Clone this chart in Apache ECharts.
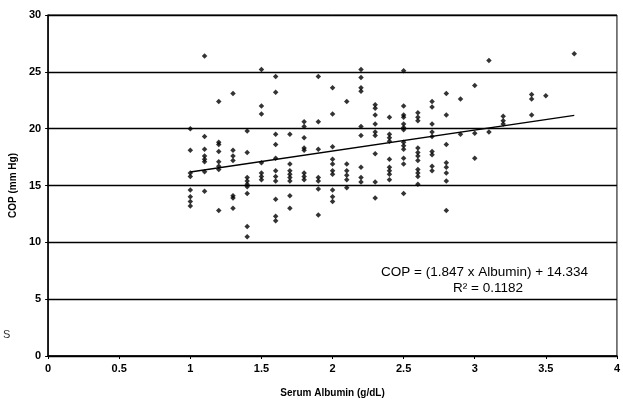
<!DOCTYPE html>
<html>
<head>
<meta charset="utf-8">
<script src="https://cdn.jsdelivr.net/npm/echarts@6/dist/echarts.min.js"></script>
<style>
html,body{margin:0;padding:0;background:#fff;}
#chart{width:623px;height:403px;}
</style>
</head>
<body>
<div id="chart"></div>
<script>
// Albumin levels (g/dL) and the COP values (mm Hg) observed at each level
var albuminLevels = [1.0, 1.1, 1.2, 1.3, 1.4, 1.5, 1.6, 1.7, 1.8, 1.9, 2.0, 2.1, 2.2, 2.3, 2.4, 2.5, 2.6, 2.7, 2.8, 2.9, 3.0, 3.1, 3.2, 3.4, 3.5, 3.7];
var copAtLevel = [
  [20.0, 18.1, 16.1, 15.8, 14.6, 14.0, 13.6, 13.2],
  [26.4, 19.3, 18.2, 17.6, 17.3, 17.1, 16.2, 14.5],
  [22.4, 18.8, 18.6, 18.0, 17.1, 16.7, 16.4, 12.8],
  [23.1, 18.1, 17.6, 17.2, 14.1, 13.9, 13.0],
  [19.8, 17.9, 15.7, 15.4, 15.1, 14.9, 14.3, 11.4, 10.5],
  [25.2, 22.0, 21.3, 17.0, 16.1, 15.8, 15.5],
  [24.6, 23.2, 19.5, 18.6, 17.4, 16.3, 15.8, 15.4, 13.8, 12.3, 11.9],
  [19.5, 16.9, 16.3, 16.0, 15.7, 15.4, 14.1, 13.0],
  [20.6, 20.2, 19.2, 18.3, 18.1, 16.1, 15.8, 15.5],
  [24.6, 20.6, 18.2, 15.7, 15.4, 14.7, 12.4],
  [23.6, 21.3, 18.4, 17.3, 16.9, 16.3, 16.0, 14.6, 14.0, 13.6],
  [22.4, 16.9, 16.3, 15.9, 15.5, 14.8],
  [25.2, 24.5, 23.6, 23.3, 20.2, 19.4, 16.6, 15.7, 15.3],
  [22.1, 21.8, 21.2, 20.4, 19.7, 19.4, 17.8, 15.3, 13.9],
  [21.0, 19.5, 19.2, 18.9, 17.3, 16.6, 16.3, 16.0, 15.5],
  [25.1, 22.0, 21.2, 21.0, 20.4, 20.1, 19.9, 18.8, 18.5, 18.2, 17.4, 16.9, 14.3],
  [21.4, 21.0, 20.7, 18.3, 17.9, 17.6, 17.2, 16.4, 16.1, 15.8, 15.1],
  [22.4, 21.9, 20.4, 19.7, 19.3, 18.0, 17.7, 16.7, 16.3],
  [23.1, 21.2, 18.6, 17.0, 16.6, 16.1, 15.4, 12.8],
  [22.6, 19.5],
  [23.8, 19.6, 17.4],
  [26.0, 19.7],
  [21.1, 20.7, 20.4],
  [23.0, 22.6, 21.2],
  [22.9],
  [26.6]
];
// Regression line end points
var trendAlbumin = [1.0, 3.7];
var trendCop = [16.18, 21.17];
var xTicks = [0, 0.5, 1, 1.5, 2, 2.5, 3, 3.5, 4];
var yTicks = [0, 5, 10, 15, 20, 25, 30];
var equationText = 'COP = (1.847 x Albumin) + 14.334';
var r2Text = 'R\u00b2 = 0.1182';

var points = [];
albuminLevels.forEach(function (a, i) {
  copAtLevel[i].forEach(function (c) { points.push([a, c]); });
});
var trend = trendAlbumin.map(function (a, i) { return [a, trendCop[i]]; });

var chart = echarts.init(document.getElementById('chart'), null, {renderer: 'canvas'});
var tickFont = {color: '#000', fontFamily: 'Liberation Sans, Arial, sans-serif', fontSize: 11, fontWeight: 'bold'};
chart.setOption({
  animation: false,
  backgroundColor: '#fff',
  grid: {left: 48, right: 5, top: 15, bottom: 47, show: true, borderColor: '#000', borderWidth: 1, backgroundColor: 'transparent'},
  xAxis: {
    type: 'value', min: 0, max: 4, interval: 0.5,
    name: 'Serum Albumin (g/dL)', nameLocation: 'middle', nameGap: 32,
    nameTextStyle: {color: '#000', fontFamily: 'Liberation Sans, Arial, sans-serif', fontSize: 10, fontWeight: 'bold'},
    axisLine: {show: true, lineStyle: {color: '#000', width: 1.5}},
    axisTick: {show: true, length: 3, lineStyle: {color: '#000'}},
    axisLabel: Object.assign({margin: 7, formatter: function (v) { return xTicks.indexOf(v) >= 0 ? String(v) : ''; }}, tickFont),
    splitLine: {show: false}
  },
  yAxis: {
    type: 'value', min: 0, max: 30, interval: 5,
    name: 'COP (mm Hg)', nameLocation: 'middle', nameGap: 28, nameRotate: 90,
    nameTextStyle: {color: '#000', fontFamily: 'Liberation Sans, Arial, sans-serif', fontSize: 10, fontWeight: 'bold'},
    axisLine: {show: true, lineStyle: {color: '#000', width: 1.5}},
    axisTick: {show: true, length: 3, lineStyle: {color: '#000'}},
    axisLabel: Object.assign({margin: 7, formatter: function (v) { return yTicks.indexOf(v) >= 0 ? String(v) : ''; }}, tickFont),
    splitLine: {show: true, lineStyle: {color: '#000', width: 1.4}}
  },
  series: [
    {
      type: 'scatter', data: points, symbol: 'diamond', symbolSize: 5.5,
      itemStyle: {color: '#000'}, z: 3
    },
    {
      type: 'line', data: trend, symbol: 'none',
      lineStyle: {color: '#000', width: 1.5}, z: 4
    }
  ],
  graphic: [
    {type: 'text', left: 381, top: 265, style: {text: equationText, fill: '#000', font: '13.5px "Liberation Sans", Arial, sans-serif'}},
    {type: 'text', left: 453, top: 281, style: {text: r2Text, fill: '#000', font: '13.5px "Liberation Sans", Arial, sans-serif'}},
    {type: 'text', left: 3, top: 329, style: {text: 'S', fill: '#333', font: '11px "Liberation Sans", Arial, sans-serif'}}
  ]
});
</script>
</body>
</html>
